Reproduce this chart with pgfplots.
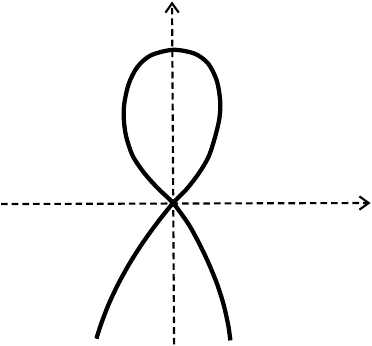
\documentclass[border=0pt]{standalone}
\usepackage{pgfplots}
\pgfplotsset{compat=1.18}
\usetikzlibrary{arrows.meta}
\begin{document}
\begin{tikzpicture}
\begin{axis}[
    hide axis,
    scale only axis,
    width=10cm, height=9.247cm,
    xmin=-177, xmax=195,
    ymin=-138, ymax=206,
    clip=false,
]
% axes
\addplot[black, line width=1.6pt, dash pattern=on 5pt off 3pt, -{Straight Barb[length=7pt,width=10pt,line width=1.6pt]}]
    coordinates {(-169,0) (194,1)};
\addplot[black, line width=1.6pt, dash pattern=on 5pt off 3pt, -{Straight Barb[length=7pt,width=10pt,line width=1.6pt]}]
    coordinates {(1,-138) (-1,199)};
% curve
\addplot[black, line width=3.2pt, smooth, tension=0.5] coordinates {
    (-75.3,-132.3) (-71.1,-119) (-63.5,-99) (-54.1,-79) (-43.1,-59) (-30.4,-39) (-16,-19)
    (0,1)
    (13,14.3) (24.7,29.3) (34.7,46) (41.3,66) (45.5,84) (46.3,101) (43,121)
    (34.7,137.7) (21.3,147.7) (0,151.5)
    (-22,146) (-35.3,134.3) (-43.7,117.7) (-48,98) (-48.3,82) (-46,66)
    (-39.5,47) (-28,30) (-14.5,15)
    (0,1)
    (15,-19.5) (25.8,-39) (35.3,-59) (43.4,-79) (49.7,-99) (54.2,-119) (56.3,-134)
};
\end{axis}
\end{tikzpicture}
\end{document}
